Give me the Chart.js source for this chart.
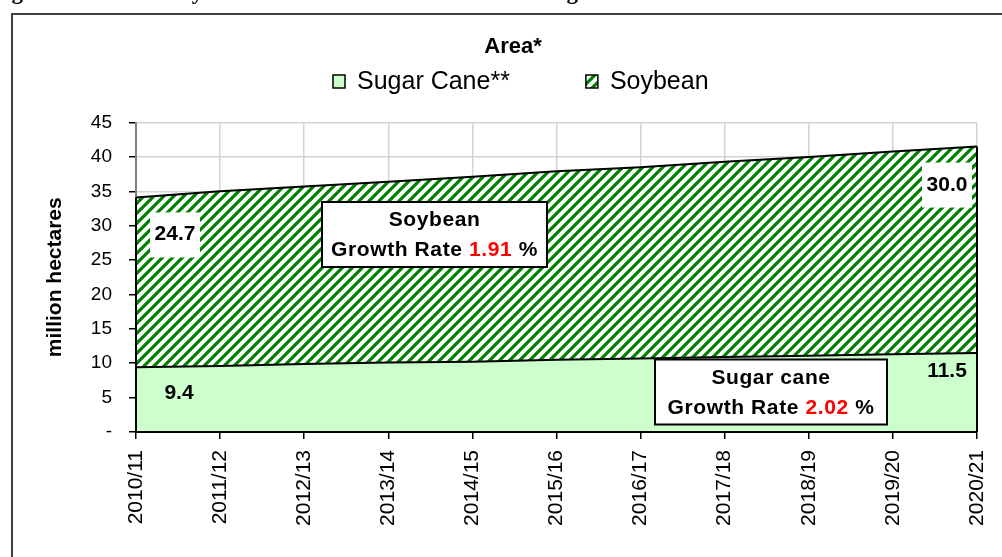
<!DOCTYPE html>
<html>
<head>
<meta charset="utf-8">
<script src="https://cdn.jsdelivr.net/npm/chart.js@4.4.1/dist/chart.umd.min.js"></script>
<style>
  html, body { margin: 0; padding: 0; background: #fff; }
  #wrap { width: 1002px; height: 557px; }
</style>
</head>
<body>
<div id="wrap"><canvas id="chart" width="1002" height="557"></canvas></div>
<script>
// data (million hectares)
const seasons = ['2010/11', '2011/12', '2012/13', '2013/14', '2014/15', '2015/16',
                 '2016/17', '2017/18', '2018/19', '2019/20', '2020/21'];
const sugarCane = [9.4, 9.6, 9.9, 10.1, 10.2, 10.5, 10.7, 10.9, 11.1, 11.3, 11.5];
const soybean = [24.7, 25.4, 25.8, 26.3, 26.9, 27.4, 27.8, 28.4, 28.9, 29.5, 30.0];
const seriesNames = ['Sugar Cane**', 'Soybean'];
const growthRates = { sugarCane: '2.02', soybean: '1.91' };
const chartTitle = 'Area*';
const yTitle = 'million hectares';
const caption = "Figure 3: Brazil's Soybean Area and their Total Area of Sugar Cane";

const SANS = '"Liberation Sans", Arial, sans-serif';
const canvas = document.getElementById('chart');
const ctx = canvas.getContext('2d');

// wide upward diagonal hatch, green on white
function hatch() {
  const c = document.createElement('canvas');
  c.width = 10; c.height = 10;
  const g = c.getContext('2d');
  g.fillStyle = '#fff';
  g.fillRect(0, 0, 10, 10);
  g.strokeStyle = '#008000';
  g.lineWidth = 3.2;
  g.beginPath();
  for (const o of [-10, 0, 10]) {
    g.moveTo(o - 2, 12);
    g.lineTo(o + 12, -2);
  }
  g.stroke();
  return ctx.createPattern(c, 'repeat');
}

const frame = {
  id: 'frame',
  beforeDraw(chart) {
    const c = chart.ctx;
    c.save();
    c.fillStyle = '#fff';
    c.fillRect(0, 0, chart.width, chart.height);
    c.fillStyle = '#000';
    c.font = 'bold 23px "Liberation Serif", "Times New Roman", serif';
    c.textBaseline = 'alphabetic';
    c.fillText(caption, -9, -1);
    c.strokeStyle = '#404040';
    c.lineWidth = 2;
    c.strokeRect(12, 14, chart.width + 40, chart.height + 40);
    c.restore();
  }
};

const legendRow = {
  id: 'legendRow',
  afterDraw(chart) {
    const c = chart.ctx;
    c.save();
    c.font = '25px ' + SANS;
    c.textBaseline = 'alphabetic';
    let x = 333;
    chart.data.datasets.forEach(ds => {
      c.fillStyle = ds.backgroundColor;
      c.fillRect(x, 75, 12, 13);
      c.strokeStyle = '#000';
      c.lineWidth = 1.5;
      c.strokeRect(x, 75, 12, 13);
      c.fillStyle = '#000';
      c.fillText(ds.label, x + 24, 89);
      x += 24 + c.measureText(ds.label).width + 76;
    });
    c.restore();
  }
};

function valueLabel(c, text, px, py, dx, dy, boxed) {
  if (boxed) {
    c.fillStyle = '#fff';
    c.fillRect(px + dx - 25, py + dy - 28, 50, 45);
  }
  c.fillStyle = '#000';
  c.fillText(text, px + dx, py + dy);
}

function rateBox(c, name, rate, left, top, w) {
  const cx = left + w / 2;
  c.fillStyle = '#fff';
  c.fillRect(left, top, w, 65);
  c.strokeStyle = '#000';
  c.lineWidth = 2;
  c.strokeRect(left, top, w, 65);
  c.font = 'bold 21px ' + SANS;
  c.letterSpacing = '0.6px';
  c.textAlign = 'center';
  c.fillStyle = '#000';
  c.fillText(name, cx, top + 24);
  const parts = [['Growth Rate ', '#000'], [rate, '#ff0000'], [' %', '#000']];
  const total = parts.reduce((s, p) => s + c.measureText(p[0]).width, 0);
  let x = cx - total / 2;
  c.textAlign = 'left';
  parts.forEach(([t, col]) => {
    c.fillStyle = col;
    c.fillText(t, x, top + 54);
    x += c.measureText(t).width;
  });
  c.letterSpacing = '0px';
}

const marks = {
  id: 'marks',
  afterDatasetsDraw(chart) {
    const c = chart.ctx;
    const { x, y } = chart.scales;
    const ca = chart.chartArea;
    const last = seasons.length - 1;
    c.save();
    // closing edges of the stacked areas
    c.strokeStyle = '#000';
    c.lineWidth = 2;
    c.beginPath();
    [0, last].forEach(i => {
      const px = x.getPixelForValue(i);
      c.moveTo(px, y.getPixelForValue(0));
      c.lineTo(px, y.getPixelForValue(sugarCane[i] + soybean[i]));
    });
    c.stroke();

    // data labels at the first and last season
    c.font = 'bold 21px ' + SANS;
    c.textAlign = 'center';
    c.textBaseline = 'alphabetic';
    const x0 = x.getPixelForValue(0), xN = x.getPixelForValue(last);
    valueLabel(c, soybean[0].toFixed(1), x0, y.getPixelForValue(sugarCane[0] + soybean[0]), 39, 43, true);
    valueLabel(c, soybean[last].toFixed(1), xN, y.getPixelForValue(sugarCane[last] + soybean[last]), -30, 44, true);
    valueLabel(c, sugarCane[0].toFixed(1), x0, y.getPixelForValue(sugarCane[0]), 43, 32, false);
    valueLabel(c, sugarCane[last].toFixed(1), xN, y.getPixelForValue(sugarCane[last]), -30, 24, false);

    // growth rate notes
    rateBox(c, 'Soybean', growthRates.soybean, ca.left + 186, ca.top + 79.5, 225);
    rateBox(c, 'Sugar cane', growthRates.sugarCane, ca.left + 519, ca.top + 237, 232);
    c.restore();
  }
};

Chart.defaults.color = '#000';
Chart.defaults.font.family = SANS;

new Chart(ctx, {
  type: 'line',
  data: {
    labels: seasons,
    datasets: [
      {
        label: seriesNames[0],
        data: sugarCane,
        fill: 'origin',
        backgroundColor: '#ccffcc',
        borderColor: '#000',
        borderWidth: 2,
        pointRadius: 0,
        tension: 0
      },
      {
        label: seriesNames[1],
        data: soybean,
        fill: '-1',
        backgroundColor: hatch(),
        borderColor: '#000',
        borderWidth: 2,
        pointRadius: 0,
        tension: 0
      }
    ]
  },
  options: {
    responsive: false,
    animation: false,
    devicePixelRatio: 1,
    layout: { padding: { left: 24, right: 0, top: 0, bottom: 0 } },
    plugins: {
      legend: { display: false },
      tooltip: { enabled: false },
      title: {
        display: true,
        text: chartTitle,
        font: { size: 22, weight: 'bold', family: SANS },
        color: '#000',
        padding: { top: 33.8, bottom: 62.3 }
      }
    },
    scales: {
      x: {
        offset: false,
        grid: { color: '#d4d4d4', lineWidth: 1.5, tickColor: '#000', tickLength: 7 },
        border: { color: '#000', width: 2, z: 1 },
        ticks: {
          font: { size: 21 },
          color: '#000',
          padding: 11,
          minRotation: 90,
          maxRotation: 90,
          autoSkip: false
        },
        afterFit(scale) {
          scale.height = 125;
          scale.paddingLeft = 0;
          scale.paddingRight = 25;
        }
      },
      y: {
        stacked: true,
        min: 0,
        max: 45,
        grid: { color: '#d4d4d4', lineWidth: 1.5, tickColor: '#000', tickLength: 7 },
        border: { color: '#808080', width: 2 },
        ticks: {
          stepSize: 5,
          font: { size: 19 },
          color: '#000',
          padding: 17,
          callback: v => (v === 0 ? '-' : v)
        },
        title: {
          display: true,
          text: yTitle,
          font: { size: 21, weight: 'bold' },
          color: '#000',
          padding: { top: 18.4, bottom: 0 }
        },
        afterFit(scale) {
          scale.width = 112;
        }
      }
    }
  },
  plugins: [frame, legendRow, marks]
});
</script>
</body>
</html>
